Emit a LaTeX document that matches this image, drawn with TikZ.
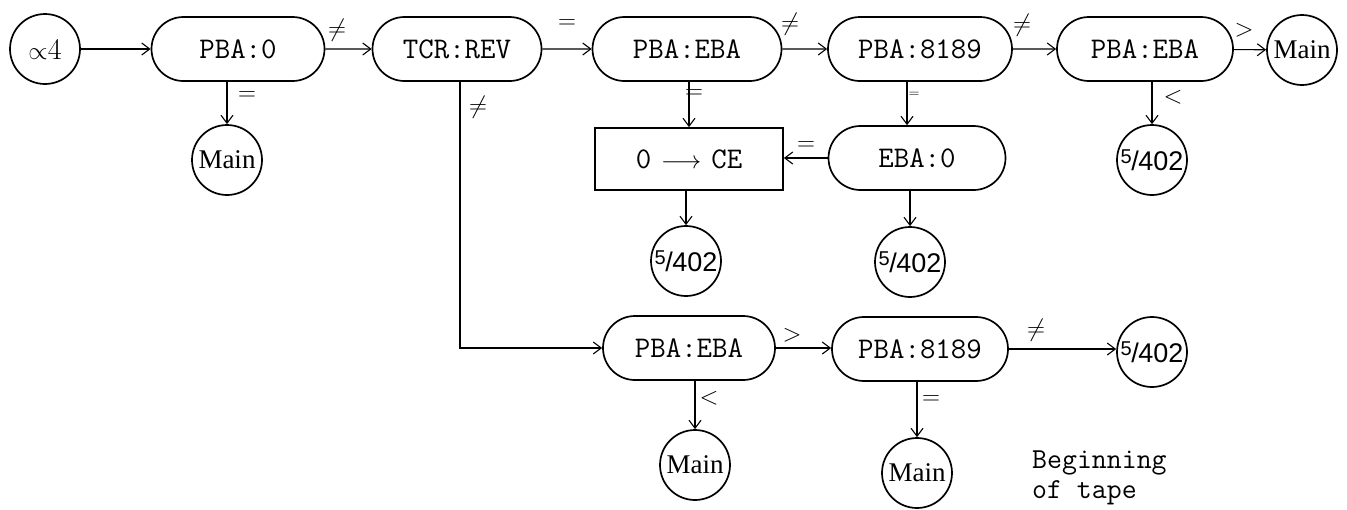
\documentclass[tikz,border=0pt]{standalone}
\usepackage{fontspec}
\newfontfamily\circfont{Liberation Serif}
\newfontfamily\numfont{Liberation Sans}
\usetikzlibrary{arrows.meta,shapes.misc}
\newcommand{\fvtwo}{{\numfont\raisebox{7pt}{\fontsize{20}{20}\selectfont 5}\kern-0.5pt/\kern-0.5pt 402}}
\begin{document}
\begin{tikzpicture}[x=1pt,y=-1pt,
  stad/.style={draw,line width=1.7pt,rounded rectangle,minimum height=64pt,inner sep=0pt,
    font=\ttfamily\fontsize{30}{30}\selectfont},
  sq/.style={draw,line width=1.7pt,minimum height=62pt,inner sep=0pt,
    font=\ttfamily\fontsize{30}{30}\selectfont},
  term/.style={draw,circle,line width=1.7pt,minimum size=70pt,inner sep=0pt,
    font=\circfont\fontsize{27}{27}\selectfont},
  conn/.style={line width=1.1pt,-{Straight Barb[length=8pt,width=12pt,line width=1.1pt]}},
  lab/.style={inner sep=0pt,font=\fontsize{24}{24}\selectfont}
]
\useasboundingbox (0,0) rectangle (1347,509);
% top row
\node[term,font=\fontsize{30}{30}\selectfont] (a4) at (45,49) {$\propto$4};
\node[stad,minimum width=173pt] (pba0) at (238,49) {PBA:0};
\node[stad,minimum width=169pt] (tcr) at (457,49) {TCR:REV};
\node[stad,minimum width=189pt] (e1) at (687,49) {PBA:EBA};
\node[stad,minimum width=184pt] (b1) at (920,49) {PBA:8189};
\node[stad,minimum width=176pt] (e2) at (1145,49) {PBA:EBA};
\node[term] (m2) at (1302,50) {Main};
% middle row
\node[term] (m1) at (227,160) {Main};
\node[sq,minimum width=188pt] (ce) at (689,159) {0\,\,$\longrightarrow$\,\,CE};
\node[stad,minimum width=177pt] (eba0) at (917,158) {EBA:0};
\node[term] (c3) at (1152,160) {\fvtwo};
\node[term] (c1) at (686,261) {\fvtwo};
\node[term] (c2) at (910,262) {\fvtwo};
% bottom row
\node[stad,minimum width=172pt] (e3) at (689,348) {PBA:EBA};
\node[stad,minimum width=176pt] (b2) at (920,349) {PBA:8189};
\node[term] (c4) at (1152,352) {\fvtwo};
\node[term] (m3) at (695,465) {Main};
\node[term] (m4) at (917,473) {Main};
\node[anchor=north west,align=left,inner sep=0pt,font=\ttfamily\fontsize{29}{30}\selectfont] (note) at (1032,451) {Beginning\\of tape};
% connectors
\draw[conn] (a4) -- (pba0);
\draw[conn] (pba0) -- (tcr);
\draw[conn] (tcr) -- (e1);
\draw[conn] (e1) -- (b1);
\draw[conn] (b1) -- (e2);
\draw[conn] (e2) -- (m2);
\draw[conn] (m1.north |- pba0.south) -- (m1.north);
\draw[conn] (ce.north |- e1.south) -- (ce.north);
\draw[conn] ([xshift=-13pt]b1.south) -- ([xshift=-13pt]b1.south |- eba0.north);
\draw[conn] (eba0.west) -- (eba0.west -| ce.east);
\draw[conn] (c1.north |- ce.south) -- (c1.north);
\draw[conn] (c2.north |- eba0.south) -- (c2.north);
\draw[conn] (c3.north |- e2.south) -- (c3.north);
\draw[conn] ([xshift=3pt]tcr.south) |- (e3.west);
\draw[conn] (e3.east) -- (e3.east -| b2.west);
\draw[conn] (b2.east) -- (b2.east -| c4.west);
\draw[conn] (m3.north |- e3.south) -- (m3.north);
\draw[conn] (m4.north |- b2.south) -- (m4.north);
% labels
\node[lab] (l1) at (337,30) {$\neq$};
\node[lab] (l2) at (567,24) {$=$};
\node[lab] (l3) at (790,24) {$\neq$};
\node[lab] (l4) at (1022,25) {$\neq$};
\node[lab] (l5) at (1244,30) {$>$};
\node[lab] (l6) at (247,96) {$=$};
\node[lab] (l7) at (478,107) {$\neq$};
\node[lab] (l8) at (694,94) {$=$};
\node[lab,font=\fontsize{14}{14}\selectfont] (l9) at (914,95) {$=$};
\node[lab] (l10) at (1173,97) {$<$};
\node[lab] (l11) at (806,146) {$=$};
\node[lab] (l12) at (792,335) {$>$};
\node[lab] (l13) at (1036,330) {$\neq$};
\node[lab] (l14) at (709,398) {$<$};
\node[lab] (l15) at (931,400) {$=$};
\end{tikzpicture}
\end{document}
